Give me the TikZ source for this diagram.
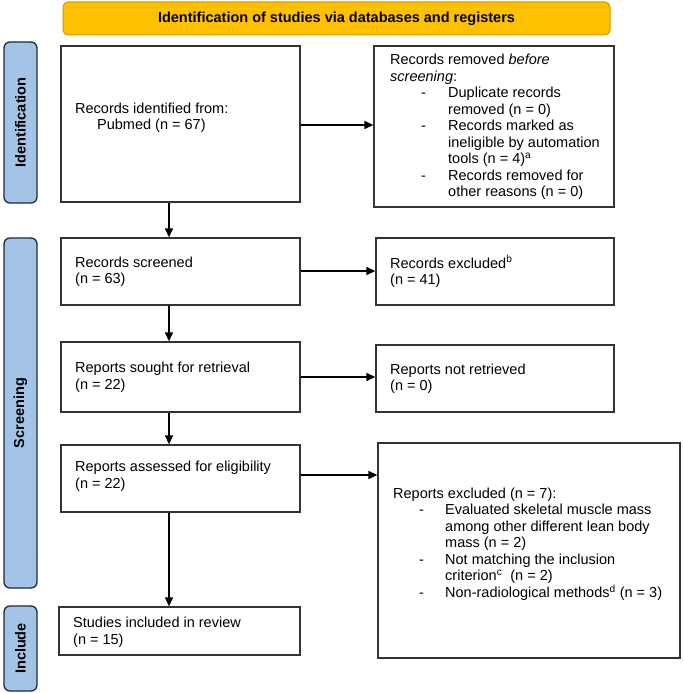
\documentclass[tikz,border=0pt]{standalone}
\usepackage{fontspec}
\setmainfont{Liberation Sans}
\usetikzlibrary{arrows.meta,calc}
\definecolor{hdrfill}{HTML}{FFC000}
\definecolor{hdrdraw}{HTML}{C99A00}
\definecolor{barfill}{HTML}{A3C4E6}
\definecolor{bardraw}{HTML}{1C2B3A}
\definecolor{boxdraw}{HTML}{333333}
\newcommand{\ditemA}[1]{\hspace*{31pt}\makebox[27pt][l]{-}#1}
\newcommand{\dcontA}[1]{\hspace*{58pt}#1}
\newcommand{\ditemB}[1]{\hspace*{26pt}\makebox[26pt][l]{-}#1}
\newcommand{\dcontB}[1]{\hspace*{52pt}#1}
\begin{document}
\begin{tikzpicture}[x=1pt,y=-1pt,
  every node/.style={font=\fontsize{14.5}{16.5}\selectfont},
  hdr/.style={draw=hdrdraw,fill=hdrfill,line width=1pt,rounded corners=5pt,inner sep=0pt},
  sidebar/.style={draw=bardraw,fill=barfill,line width=1.3pt,rounded corners=6pt,inner sep=0pt,minimum width=33pt},
  sidelabel/.style={rotate=90,font=\fontsize{14.5}{16.5}\selectfont\bfseries},
  flowbox/.style={draw=boxdraw,line width=1.3pt,inner sep=0pt},
  txt/.style={anchor=west,align=left,inner sep=0pt},
  flow/.style={draw=black,line width=1.3pt,-{Triangle[length=9pt,width=8pt]}}
]
\useasboundingbox (0,0) rectangle (683,693);
% header
\node[hdr,minimum width=547pt,minimum height=33pt] (hdr) at (336.5,18.5)
  {\bfseries Identification of studies via databases and registers};
% side bars
\node[sidebar,minimum height=161pt] (idbar) at (20.5,122.5) {};
\node[sidelabel] (idlab) at (idbar.center) {Identification};
\node[sidebar,minimum height=350pt] (scbar) at (20.5,413) {};
\node[sidelabel] (sclab) at (scbar.center) {Screening};
\node[sidebar,minimum height=85pt] (inbar) at (20.5,648.5) {};
\node[sidelabel] (inlab) at (inbar.center) {Include};
% left boxes
\node[flowbox,minimum width=239pt,minimum height=156pt] (b1) at (180.5,124) {};
\node[txt] (t1) at (75,117.5) {Records identified from:\\\hspace*{22pt}Pubmed (n = 67)};
\node[flowbox,minimum width=239pt,minimum height=67pt] (b2) at (180.5,271.5) {};
\node[txt] (t2) at (75,271.5) {Records screened\\(n = 63)};
\node[flowbox,minimum width=239pt,minimum height=70pt] (b3) at (180.5,377) {};
\node[txt] (t3) at (75,377) {Reports sought for retrieval\\(n = 22)};
\node[flowbox,minimum width=239pt,minimum height=67pt] (b4) at (180.5,478.5) {};
\node[txt] (t4) at (75,476) {Reports assessed for eligibility\\(n = 22)};
\node[flowbox,minimum width=241pt,minimum height=48pt] (b5) at (179.5,631) {};
\node[txt] (t5) at (73,632) {Studies included in review\\(n = 15)};
% right boxes
\node[flowbox,minimum width=240pt,minimum height=161pt] (r1) at (494,126.5) {};
\node[txt] (s1) at (390,127) {Records removed \textit{before}\\\textit{screening}:\\
  \ditemA{Duplicate records}\\\dcontA{removed (n = 0)}\\
  \ditemA{Records marked as}\\\dcontA{ineligible by automation}\\\dcontA{tools (n = 4)\textsuperscript{a}}\\
  \ditemA{Records removed for}\\\dcontA{other reasons (n = 0)}};
\node[flowbox,minimum width=238pt,minimum height=67pt] (r2) at (495,271.5) {};
\node[txt] (s2) at (390,271.5) {Records excluded\textsuperscript{b}\\(n = 41)};
\node[flowbox,minimum width=238pt,minimum height=67pt] (r3) at (495,378.5) {};
\node[txt] (s3) at (390,378.5) {Reports not retrieved\\(n = 0)};
\node[flowbox,minimum width=302pt,minimum height=215pt] (r4) at (529,550.5) {};
\node[txt] (s4) at (393,544) {Reports excluded (n = 7):\\
  \ditemB{Evaluated skeletal muscle mass}\\\dcontB{among other different lean body}\\\dcontB{mass (n = 2)}\\
  \ditemB{Not matching the inclusion}\\\dcontB{criterion\textsuperscript{c}\ \ (n = 2)}\\
  \ditemB{Non-radiological methods\textsuperscript{d} (n = 3)}};
% horizontal connectors
\draw[flow] ([yshift=-1pt]b1.east) -- ([yshift=-1pt]b1.east -| r1.west);
\draw[flow] ([yshift=0.5pt]b2.east) -- ([yshift=0.5pt]b2.east -| r2.west);
\draw[flow] (b3.east) -- (b3.east -| r3.west);
\draw[flow] ([yshift=3.5pt]b4.east) -- ([yshift=3.5pt]b4.east -| r4.west);
% vertical connectors
\draw[flow] ([xshift=-11.5pt]b1.south) -- ([xshift=-11.5pt]b1.south |- b2.north);
\draw[flow] ([xshift=-11.5pt]b2.south) -- ([xshift=-11.5pt]b2.south |- b3.north);
\draw[flow] ([xshift=-11.5pt]b3.south) -- ([xshift=-11.5pt]b3.south |- b4.north);
\draw[flow] ([xshift=-11.5pt]b4.south) -- ([xshift=-11.5pt]b4.south |- b5.north);
\end{tikzpicture}
\end{document}
